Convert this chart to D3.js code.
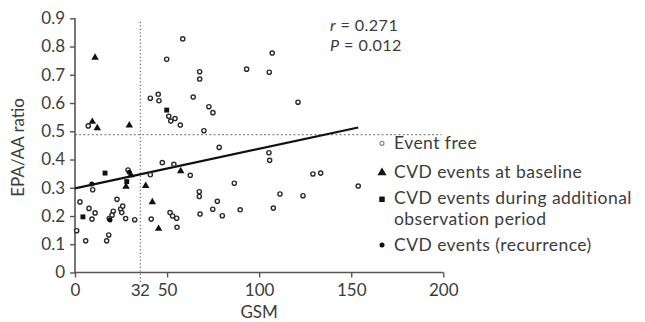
<!DOCTYPE html>
<html><head><meta charset="utf-8">
<script src="https://cdn.jsdelivr.net/npm/d3@7"></script>
<style>
html,body{margin:0;padding:0;background:#fff;}
svg{display:block;font-family:Lato,"Open Sans",sans-serif;}
</style></head>
<body><div id="chart"></div>
<script>
// ---- data (GSM, EPA/AA ratio) ----
const eventFree = [
 [58.5,0.827],[49.8,0.755],[67.7,0.711],[67.7,0.685],[40.9,0.617],[45.2,0.631],[45.6,0.608],[64.2,0.621],
 [50.9,0.553],[52.0,0.536],[54.3,0.545],[57.2,0.522],[7.2,0.519],[107.1,0.777],[93.2,0.720],[105.5,0.709],
 [121.1,0.603],[72.7,0.587],[74.9,0.566],[70.0,0.502],[9.6,0.293],[2.7,0.250],[7.6,0.227],
 [10.9,0.211],[9.2,0.189],[0.9,0.148],[5.8,0.112],[18.3,0.133],[17.2,0.112],[22.8,0.259],[20.8,0.217],
 [20.1,0.203],[18.6,0.191],[24.8,0.225],[25.9,0.235],[25.4,0.212],[27.5,0.191],[32.4,0.187],[28.8,0.363],
 [40.9,0.346],[41.4,0.189],[47.4,0.389],[53.7,0.383],[62.6,0.344],[51.6,0.212],[53.0,0.200],[55.2,0.192],
 [55.4,0.160],[67.5,0.286],[67.5,0.269],[67.9,0.207],[78.3,0.443],[105.3,0.424],[105.7,0.397],[77.3,0.252],
 [74.8,0.224],[80.0,0.201],[86.5,0.316],[89.7,0.222],[111.3,0.278],[107.7,0.228],[123.8,0.272],[129.2,0.349],
 [133.4,0.352],[153.8,0.306]
];
const baselineEvents = [
 [10.9,0.761],[9.4,0.534],[12.1,0.511],[29.5,0.521],[27.7,0.304],[38.4,0.307],[42.0,0.249],[45.4,0.155],
 [57.4,0.359],[30.4,0.345]
];
const additionalEvents = [[49.8,0.575],[16.3,0.352],[4.3,0.197],[28.1,0.322]];
const recurrenceEvents = [[19.0,0.186],[29.5,0.355],[9.1,0.313]];

const xTicks = [0,50,100,150,200];
const yTicks = [0,0.1,0.2,0.3,0.4,0.5,0.6,0.7,0.8,0.9];
const cutoffLabel = "32";
const cutoffGSM = 35.5;      // drawn position of the vertical dotted line
const ratioCutoff = 0.488;   // horizontal dotted line
const regression = {intercept:0.298, slope:0.0014, xEnd:153.8};
const stats = ["r = 0.271","P = 0.012"];
const legendLabels = [["Event free"],["CVD events at baseline"],["CVD events during additional","observation period"],["CVD events (recurrence)"]];

// ---- drawing ----
const W=645,H=322;
const svg=d3.select("#chart").append("svg").attr("width",W).attr("height",H);
const x=d3.scaleLinear().domain([0,200]).range([75,443.3]);
const y=d3.scaleLinear().domain([0,0.9]).range([272.5,18.3]);
const axisCol="#555", textCol="#3c3c3c";
const fs="17px";

// reference dotted lines
svg.append("line").attr("x1",x(cutoffGSM)).attr("x2",x(cutoffGSM))
  .attr("y1",y(0.888)).attr("y2",y(0)+12)
  .attr("stroke","#777").attr("stroke-width",1.3).attr("stroke-dasharray","1.3,2.2");
svg.append("line").attr("x1",x(0)).attr("x2",x(199)).attr("y1",y(ratioCutoff)).attr("y2",y(ratioCutoff))
  .attr("stroke","#888").attr("stroke-width",1.3).attr("stroke-dasharray","2,2.2");

// axes
const xAxis=d3.axisBottom(x).tickValues(xTicks).tickSize(5).tickFormat(d3.format("d"));
const gx=svg.append("g").attr("transform",`translate(0,${y(0)})`).call(xAxis);
const yAxis=d3.axisLeft(y).tickValues(yTicks).tickSize(5).tickFormat(d=>d===0?"0":d3.format(".1f")(d));
const gy=svg.append("g").attr("transform",`translate(${x(0)},0)`).call(yAxis);
[gx,gy].forEach(g=>{
  g.select(".domain").attr("stroke",axisCol).attr("stroke-width",1.6);
  g.selectAll(".tick line").attr("stroke",axisCol).attr("stroke-width",1.4);
  g.selectAll(".tick text").attr("fill",textCol).style("font-size",fs).style("font-family","Lato,sans-serif");
});
gx.select(".domain").attr("d",`M${x(0)},0H${x(200)}`);
gy.select(".domain").attr("d",`M0,${y(0)}V${y(0.9)}`);
gx.selectAll(".tick text").attr("y",6).attr("dy","1.0em");
gy.selectAll(".tick text").attr("x",-10);
// cutoff label on x axis
gx.append("text").attr("x",x(cutoffGSM)).attr("y",6).attr("dy","1.0em").attr("text-anchor","middle")
  .attr("fill",textCol).style("font-size",fs).text(cutoffLabel);

// axis titles
svg.append("text").attr("x",(x(0)+x(200))/2).attr("y",318).attr("text-anchor","middle")
  .attr("fill",textCol).style("font-size",fs).text("GSM");
svg.append("text").attr("transform",`translate(24,${(y(0)+y(0.9))/2+2}) rotate(-90)`).attr("text-anchor","middle")
  .attr("fill",textCol).style("font-size",fs).text("EPA/AA ratio");

// regression line
svg.append("line").attr("x1",x(0)).attr("y1",y(regression.intercept))
  .attr("x2",x(regression.xEnd)).attr("y2",y(regression.intercept+regression.slope*regression.xEnd))
  .attr("stroke","#111").attr("stroke-width",2.2);

// points
const tri=d3.symbol().type(d3.symbolTriangle).size(24);
const sq=d3.symbol().type(d3.symbolSquare).size(24);
svg.append("g").selectAll("circle").data(eventFree).join("circle")
  .attr("cx",d=>x(d[0])).attr("cy",d=>y(d[1])).attr("r",2.1)
  .attr("fill","#fff").attr("stroke","#2a2a2a").attr("stroke-width",1.4);
svg.append("g").selectAll("path").data(baselineEvents).join("path")
  .attr("d",tri).attr("transform",d=>`translate(${x(d[0])},${y(d[1])})`).attr("fill","#111");
svg.append("g").selectAll("path").data(additionalEvents).join("path")
  .attr("d",sq).attr("transform",d=>`translate(${x(d[0])},${y(d[1])})`).attr("fill","#111");
svg.append("g").selectAll("circle").data(recurrenceEvents).join("circle")
  .attr("cx",d=>x(d[0])).attr("cy",d=>y(d[1])).attr("r",2.5).attr("fill","#111");

// stats text
stats.forEach((s,i)=>{
  const [a,b]=s.split(" = ");
  const t=svg.append("text").attr("fill",textCol).style("font-size","16.2px").style("letter-spacing","0.4px")
    .attr("x",330).attr("y",31+i*19.6);
  t.append("tspan").style("font-style","italic").text(a);
  t.append("tspan").text(" = "+b);
});

// legend
const lg=svg.append("g").attr("fill",textCol).style("font-size","17.5px").style("letter-spacing","0.45px");
const rowY=[143.3,171.7,198.3,245];
legendLabels.forEach((lines,i)=>{
  lines.forEach((ln,j)=>{
    lg.append("text").attr("x",394).attr("y",rowY[i]+6+j*20.5).text(ln);
  });
});
lg.append("circle").attr("cx",382).attr("cy",rowY[0]).attr("r",2).attr("fill","#fff").attr("stroke","#888").attr("stroke-width",1.2);
lg.append("path").attr("d",d3.symbol().type(d3.symbolTriangle).size(36)).attr("transform",`translate(382,${rowY[1]+1})`).attr("fill","#111");
lg.append("path").attr("d",d3.symbol().type(d3.symbolSquare).size(30)).attr("transform",`translate(382,${rowY[2]+1})`).attr("fill","#111");
lg.append("circle").attr("cx",382).attr("cy",rowY[3]).attr("r",2.5).attr("fill","#111");
</script></body></html>
